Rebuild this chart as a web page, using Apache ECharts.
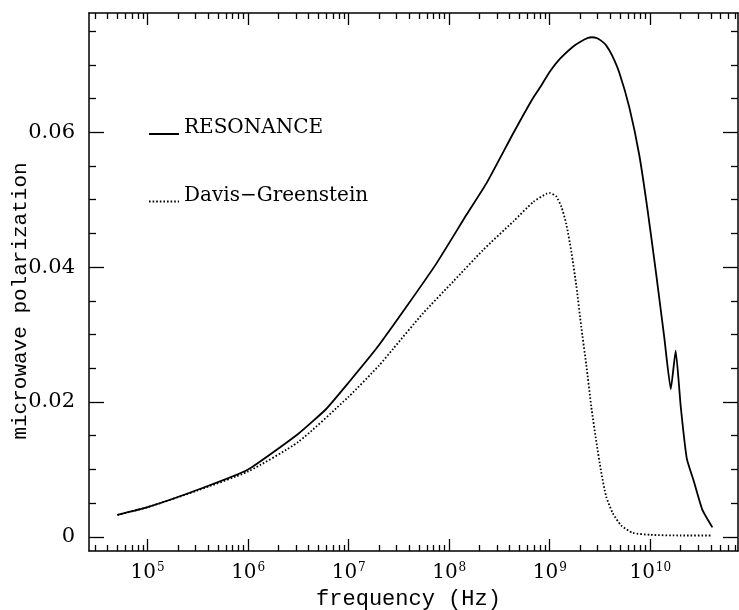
<!DOCTYPE html>
<html><head><meta charset="utf-8">
<script src="https://cdn.jsdelivr.net/npm/echarts@6/dist/echarts.min.js"></script>
<style>html,body{margin:0;padding:0;background:#fff}#c{width:739px;height:610px}</style>
</head><body><div id="c"></div>
<script>
// Frequencies (Hz) and polarization values
const resonanceFreq = [5.0e4, 1.0e5, 3.3e5, 1.0e6, 3.16e6, 6.0e6, 1.0e7, 1.9e7, 3.78e7, 7.5e7, 1.49e8, 2.36e8, 4.35e8, 6.64e8, 7.96e8, 1.0e9, 1.26e9, 1.70e9, 2.0e9, 2.4e9, 2.63e9, 2.9e9, 3.24e9, 3.64e9, 4.17e9, 4.93e9, 6.19e9, 7.78e9, 9.42e9, 1.14e10, 1.38e10, 1.60e10, 1.79e10, 2.01e10, 2.31e10, 2.73e10, 3.30e10, 4.15e10];
const resonanceVal  = [0.00326, 0.0044, 0.0071, 0.0100, 0.0153, 0.0190, 0.0229, 0.0280, 0.0342, 0.0406, 0.0478, 0.0525, 0.0599, 0.0648, 0.0666, 0.0690, 0.0709, 0.0727, 0.0734, 0.0740, 0.0741, 0.0740, 0.0736, 0.0729, 0.0714, 0.0688, 0.0637, 0.0566, 0.0484, 0.0392, 0.0295, 0.0219, 0.0276, 0.0193, 0.0116, 0.0081, 0.0040, 0.0014];
const dgFreq = [5.0e4, 1.0e5, 3.16e5, 1.0e6, 3.16e6, 1.0e7, 2.0e7, 2.77e7, 5.52e7, 1.1e8, 2.19e8, 4.35e8, 6.89e8, 9.3e8, 1.0e9, 1.16e9, 1.31e9, 1.46e9, 1.64e9, 1.84e9, 2.06e9, 2.31e9, 2.59e9, 2.9e9, 3.25e9, 3.64e9, 4.24e9, 5.13e9, 6.68e9, 1.0e10, 2.0e10, 4.15e10];
const dgVal  = [0.00326, 0.0044, 0.0069, 0.0097, 0.0141, 0.0208, 0.0254, 0.0279, 0.0332, 0.0379, 0.0426, 0.0468, 0.0497, 0.0509, 0.0510, 0.0505, 0.0489, 0.0464, 0.0423, 0.0372, 0.0311, 0.0255, 0.0193, 0.0142, 0.0096, 0.0060, 0.0035, 0.0017, 0.0006, 0.0003, 0.0002, 0.0002];
const seriesNames = ['RESONANCE', 'Davis\u2212Greenstein'];
const xMajorTicks = [1e5, 1e6, 1e7, 1e8, 1e9, 1e10];
const xMinorTicks = [3e4,4e4,5e4,6e4,7e4,8e4,9e4, 2e5,3e5,4e5,5e5,6e5,7e5,8e5,9e5, 2e6,3e6,4e6,5e6,6e6,7e6,8e6,9e6, 2e7,3e7,4e7,5e7,6e7,7e7,8e7,9e7, 2e8,3e8,4e8,5e8,6e8,7e8,8e8,9e8, 2e9,3e9,4e9,5e9,6e9,7e9,8e9,9e9, 2e10,3e10,4e10,5e10,6e10,7e10];
const yMajorTicks = [0, 0.02, 0.04, 0.06];
const yMinorTicks = [0.005, 0.01, 0.015, 0.025, 0.03, 0.035, 0.045, 0.05, 0.055, 0.065, 0.07, 0.075];
const xName = 'frequency (Hz)';
const yName = 'microwave polarization';

const X_MIN = 2.61e4, X_MAX = 7.46e10, Y_MIN = -0.0021, Y_MAX = 0.0777;
const serif = 'DejaVu Serif', mono = 'Liberation Mono';
const axisLineStyle = {color: '#000', width: 1.5};

function xAxisCfg(pos, ticks, len, showLine, labels) {
  return {
    type: 'log', logBase: 10, position: pos, min: X_MIN, max: X_MAX,
    axisLine: {show: showLine, onZero: false, lineStyle: axisLineStyle},
    axisTick: {show: true, inside: true, length: len, customValues: ticks, lineStyle: {color: '#000', width: 1.3}},
    axisLabel: labels ? {
      show: true, customValues: xMajorTicks, margin: 11,
      formatter: v => '10{s|' + Math.round(Math.log10(v)) + '}',
      fontFamily: serif, fontSize: 20, color: '#000',
      rich: {s: {fontFamily: serif, fontSize: 12, color: '#000', padding: [0, 0, 9, 1]}}
    } : {show: false},
    splitLine: {show: false}, minorTick: {show: false}
  };
}
function yAxisCfg(pos, ticks, len, showLine, labels) {
  return {
    type: 'value', position: pos, min: Y_MIN, max: Y_MAX,
    axisLine: {show: showLine, onZero: false, lineStyle: axisLineStyle},
    axisTick: {show: true, inside: true, length: len, customValues: ticks, lineStyle: {color: '#000', width: 1.3}},
    axisLabel: labels ? {
      show: true, customValues: yMajorTicks, margin: 14,
      formatter: v => v === 0 ? '0' : v.toFixed(2),
      fontFamily: serif, fontSize: 21, color: '#000'
    } : {show: false},
    splitLine: {show: false}
  };
}

const xAxes = [
  xAxisCfg('bottom', xMajorTicks, 12, true, true),
  xAxisCfg('bottom', xMinorTicks, 6, false, false),
  xAxisCfg('top', xMajorTicks, 12, true, false),
  xAxisCfg('top', xMinorTicks, 6, false, false)
];
Object.assign(xAxes[0], {name: xName, nameLocation: 'middle', nameGap: 37, nameMoveOverlap: false,
  nameTextStyle: {fontFamily: mono, fontSize: 22, color: '#000', padding: [0, 10, 0, 0]}});
const yAxes = [
  yAxisCfg('left', yMajorTicks, 15, true, true),
  yAxisCfg('left', yMinorTicks, 7, false, false),
  yAxisCfg('right', yMajorTicks, 15, true, false),
  yAxisCfg('right', yMinorTicks, 7, false, false)
];
Object.assign(yAxes[0], {name: yName, nameLocation: 'middle', nameGap: 58, nameMoveOverlap: false,
  nameTextStyle: {fontFamily: mono, fontSize: 21, color: '#000', padding: [0, 38, 0, 0]}});

const chart = echarts.init(document.getElementById('c'), null, {renderer: 'canvas'});
chart.setOption({
  animation: false,
  backgroundColor: '#fff',
  grid: {left: 89, right: 1, top: 13, bottom: 59, containLabel: false, outerBoundsMode: 'none'},
  xAxis: xAxes,
  yAxis: yAxes,
  legend: {
    orient: 'vertical', left: 148, top: 118, padding: 0, itemWidth: 30, itemHeight: 14, itemGap: 46,
    selectedMode: false, data: seriesNames,
    itemStyle: {color: 'rgba(0,0,0,0)', borderWidth: 0, opacity: 0},
    formatter: name => '{t|' + name + '}',
    textStyle: {fontFamily: serif, fontSize: 20, color: '#000',
      rich: {t: {fontFamily: serif, fontSize: 20, color: '#000', padding: [0, 0, 12, 0]}}}
  },
  series: [
    {type: 'line', name: seriesNames[0], xAxisIndex: 0, yAxisIndex: 0, symbol: 'none', showSymbol: false,
     smooth: 0.15,
     data: resonanceFreq.map((f, i) => [f, resonanceVal[i]]),
     lineStyle: {color: '#000', width: 1.8}, itemStyle: {color: '#000'}},
    {type: 'line', name: seriesNames[1], xAxisIndex: 0, yAxisIndex: 0, symbol: 'none', showSymbol: false,
     smooth: 0.2,
     data: dgFreq.map((f, i) => [f, dgVal[i]]),
     lineStyle: {color: '#000', width: 1.8, type: [1.6, 2.0]}, itemStyle: {color: '#000'}}
  ]
});
</script></body></html>
